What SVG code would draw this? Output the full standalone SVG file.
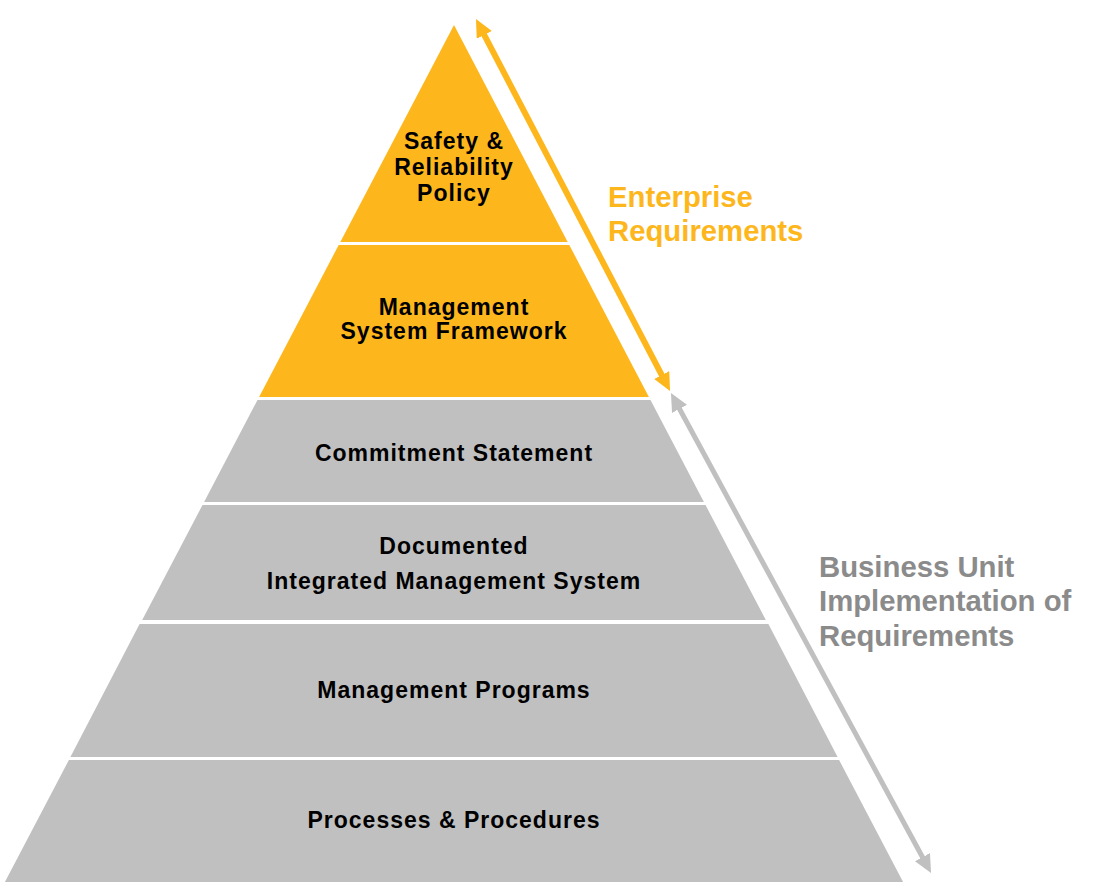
<svg xmlns="http://www.w3.org/2000/svg" width="1096" height="892" viewBox="0 0 1096 892">
  <style>
    .gold { fill: #FDB71C; }
    .gray { fill: #C0C0C0; }
    .lbl { font-family: "Liberation Sans", Arial, sans-serif; font-weight: bold; font-size: 23px; letter-spacing: 1px; fill: #000; text-anchor: middle; }
    .side { font-family: "Liberation Sans", Arial, sans-serif; font-weight: bold; font-size: 29.3px; }
    .side-gold { fill: #FDB71C; }
    .side-gray { fill: #8B8B8B; }
  </style>
  <defs>
    <marker id="headGold" markerUnits="userSpaceOnUse" markerWidth="18" markerHeight="17" refX="3" refY="8.5" orient="auto-start-reverse" viewBox="0 0 18 17">
      <path d="M0,0 L18,8.5 L0,17 z" fill="#FDB71C"/>
    </marker>
    <marker id="headGray" markerUnits="userSpaceOnUse" markerWidth="18" markerHeight="17" refX="3" refY="8.5" orient="auto-start-reverse" viewBox="0 0 18 17">
      <path d="M0,0 L18,8.5 L0,17 z" fill="#C0C0C0"/>
    </marker>
  </defs>
  <rect x="0" y="0" width="1096" height="892" fill="#FFFFFF"/>

  <g id="layer-policy">
    <polygon class="gold" points="454,25 567.7,242 340.3,242"/>
    <text class="lbl" x="454" y="149">Safety &amp;</text>
    <text class="lbl" x="454" y="175">Reliability</text>
    <text class="lbl" x="454" y="201">Policy</text>
  </g>
  <g id="layer-framework">
    <polygon class="gold" points="338.7,245 569.3,245 648.9,397 259.1,397"/>
    <text class="lbl" x="454" y="315">Management</text>
    <text class="lbl" x="454" y="339">System Framework</text>
  </g>
  <g id="layer-commitment">
    <polygon class="gray" points="257.5,400 650.5,400 703.9,502 204.1,502"/>
    <text class="lbl" x="454" y="461">Commitment Statement</text>
  </g>
  <g id="layer-documented">
    <polygon class="gray" points="202.5,505 705.5,505 765.8,620 142.2,620"/>
    <text class="lbl" x="454" y="554">Documented</text>
    <text class="lbl" x="454" y="589">Integrated Management System</text>
  </g>
  <g id="layer-programs">
    <polygon class="gray" points="139.6,624 768.4,624 837.6,757 70.4,757"/>
    <text class="lbl" x="454" y="698">Management Programs</text>
  </g>
  <g id="layer-processes">
    <polygon class="gray" points="68.9,760 839.1,760 903.1,882 4.9,882"/>
    <text class="lbl" x="454" y="828">Processes &amp; Procedures</text>
  </g>

  <g id="connectors">
    <line x1="482.9" y1="32.3" x2="663.1" y2="377.7" stroke="#FDB71C" stroke-width="6" marker-start="url(#headGold)" marker-end="url(#headGold)"/>
    <line x1="678.1" y1="406.2" x2="923.9" y2="859.8" stroke="#C0C0C0" stroke-width="5" marker-start="url(#headGray)" marker-end="url(#headGray)"/>
  </g>

  <g id="label-enterprise">
    <text class="side side-gold" x="608" y="207">Enterprise</text>
    <text class="side side-gold" x="608" y="241">Requirements</text>
  </g>
  <g id="label-business">
    <text class="side side-gray" x="819" y="577">Business Unit</text>
    <text class="side side-gray" x="819" y="611">Implementation of</text>
    <text class="side side-gray" x="819" y="646">Requirements</text>
  </g>
</svg>
